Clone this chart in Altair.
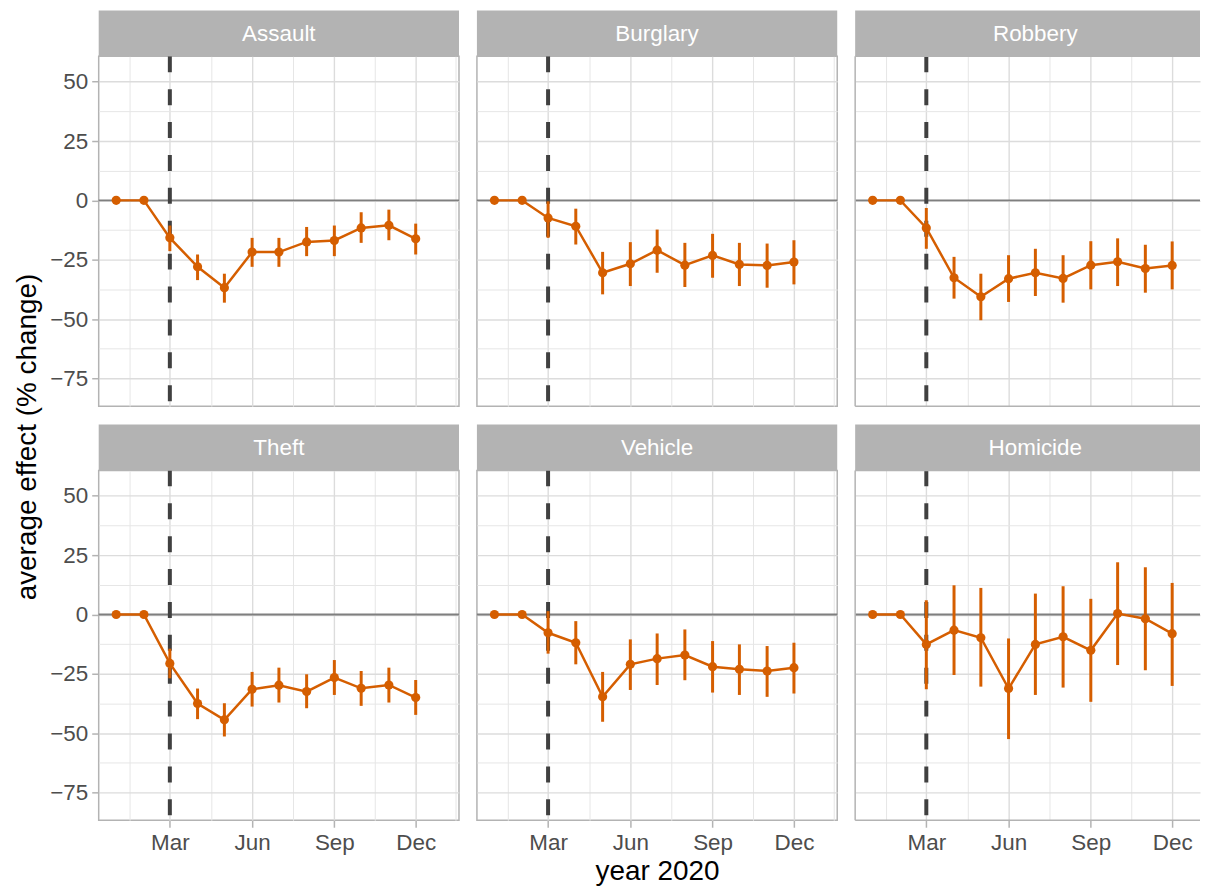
import altair as alt
import pandas as pd

# ---------------- data ----------------
crimes = ["Assault", "Burglary", "Robbery", "Theft", "Vehicle", "Homicide"]
months = ["2020-01-01", "2020-02-01", "2020-03-01", "2020-04-01", "2020-05-01", "2020-06-01",
          "2020-07-01", "2020-08-01", "2020-09-01", "2020-10-01", "2020-11-01", "2020-12-01"]
event_date = "2020-03-01"

assault_est = [0, 0, -15.8, -28.0, -36.8, -21.8, -21.8, -17.5, -16.9, -11.6, -10.5, -16.2]
assault_lo = [0, 0, -21.4, -33.6, -43.1, -28.0, -28.0, -23.5, -23.5, -17.9, -16.8, -22.8]
assault_hi = [0, 0, -10.6, -22.8, -30.9, -15.8, -15.8, -11.2, -10.6, -5.0, -3.9, -9.8]

burglary_est = [0, 0, -7.4, -10.9, -30.5, -26.7, -21.0, -27.3, -23.2, -27.0, -27.4, -26.0]
burglary_lo = [0, 0, -15.8, -18.6, -39.6, -36.1, -30.5, -36.5, -32.6, -36.1, -36.8, -35.4]
burglary_hi = [0, 0, -0.4, -3.5, -21.7, -17.6, -12.3, -17.9, -14.1, -17.9, -18.2, -16.8]

robbery_est = [0, 0, -11.6, -32.6, -40.6, -33.0, -30.5, -32.9, -27.3, -25.9, -28.7, -27.4]
robbery_lo = [0, 0, -20.4, -41.4, -50.5, -42.8, -40.3, -43.1, -37.5, -36.1, -38.9, -37.5]
robbery_hi = [0, 0, -3.2, -23.8, -30.9, -23.1, -20.4, -23.1, -17.2, -16.0, -18.7, -17.3]

theft_est = [0, 0, -20.6, -37.5, -44.4, -31.5, -29.8, -32.5, -26.6, -31.1, -29.7, -35.0]
theft_lo = [0, 0, -26.9, -44.1, -51.4, -38.8, -37.1, -39.5, -33.9, -38.5, -37.1, -42.3]
theft_hi = [0, 0, -14.4, -31.2, -37.4, -24.2, -22.4, -25.2, -19.2, -23.8, -22.4, -27.6]

vehicle_est = [0, 0, -7.7, -11.9, -34.7, -21.0, -18.6, -17.1, -22.0, -23.1, -23.8, -22.4]
vehicle_lo = [0, 0, -16.5, -21.0, -45.2, -31.8, -29.7, -27.7, -32.9, -33.9, -34.7, -33.3]
vehicle_hi = [0, 0, 1.4, -2.8, -24.2, -10.5, -8.0, -6.3, -11.2, -12.6, -13.3, -11.9]

homicide_est = [0, 0, -12.6, -6.6, -9.8, -31.2, -12.6, -9.4, -15.1, 0.4, -1.8, -8.1]
homicide_lo = [0, 0, -31.5, -25.5, -30.4, -52.5, -33.9, -30.8, -36.8, -21.3, -23.5, -30.1]
homicide_hi = [0, 0, 6.0, 12.3, 11.2, -10.1, 8.8, 11.9, 6.6, 22.0, 19.9, 13.3]

series = {
    "Assault": (assault_est, assault_lo, assault_hi),
    "Burglary": (burglary_est, burglary_lo, burglary_hi),
    "Robbery": (robbery_est, robbery_lo, robbery_hi),
    "Theft": (theft_est, theft_lo, theft_hi),
    "Vehicle": (vehicle_est, vehicle_lo, vehicle_hi),
    "Homicide": (homicide_est, homicide_lo, homicide_hi),
}

y_major = [-75, -50, -25, 0, 25, 50]
y_minor = [-62.5, -37.5, -12.5, 12.5, 37.5]
x_major = ["2020-03-01", "2020-06-01", "2020-09-01", "2020-12-01"]
x_minor = ["2020-01-15 12:00", "2020-04-16 00:00", "2020-07-17 00:00", "2020-10-16 12:00",
           "2021-01-15 00:00"]
x_limits = ["2019-12-12 10:00", "2021-01-18 10:00"]

rows = []
for c in crimes:
    est, lo, hi = series[c]
    for m, e, l, h in zip(months, est, lo, hi):
        rows.append({"crime": c, "date": m, "est": e, "lo": l, "hi": h})
df = pd.DataFrame(rows)

# ---------------- styling ----------------
ORANGE = "#D55E00"
BORDER = "#B3B3B3"
FONT = "Liberation Sans"
W, H = 361.5, 351
W_LAST = 346            # right column is cut by the picture edge, as in the reference
STRIP = 46


def ms(s):
    return int(pd.Timestamp(s, tz="UTC").value // 10**6)


t0, t1 = ms(x_limits[0]), ms(x_limits[1])
x_major_test = "utcdate(datum.value) == 1"
y_major_test = "datum.value % 25 == 0"
y_values = sorted(y_major + y_minor)
yscale = alt.Scale(domain=[-86.7, 60.7], nice=False, zero=False)


def x_axis(show, title, tmax):
    vals = [v for v in [ms(s) for s in x_major + x_minor] if v <= tmax]
    return alt.Axis(
        values=vals,
        grid=True,
        domain=False,
        labels=show,
        ticks=show,
        labelOverlap=False,
        labelFlush=False,
        labelExpr="utcdate(datum.value) == 1 ? utcFormat(datum.value, '%b') : ''",
        tickOpacity={"condition": {"test": x_major_test, "value": 1}, "value": 0},
        gridWidth={"condition": {"test": x_major_test, "value": 1.4}, "value": 1.0},
        gridColor={"condition": {"test": x_major_test, "value": "#DCDCDC"}, "value": "#E6E6E6"},
        title=title,
    )


def y_axis(show):
    return alt.Axis(
        values=y_values,
        grid=True,
        domain=False,
        labels=show,
        ticks=show,
        labelOverlap=False,
        labelExpr="datum.value % 25 == 0 ? datum.label : ''",
        tickOpacity={"condition": {"test": y_major_test, "value": 1}, "value": 0},
        gridWidth={"condition": {"test": y_major_test, "value": 1.4}, "value": 1.0},
        gridColor={"condition": {"test": y_major_test, "value": "#DCDCDC"}, "value": "#E6E6E6"},
        title=None,
    )


def panel(i, crime):
    row, col = divmod(i, 3)
    last = col == 2
    w = W_LAST if last else W
    tmax = t0 + (t1 - t0) * w / W
    xscale = alt.Scale(type="utc", domain=[t0, tmax])
    xa = x_axis(row == 1, "year 2020" if (row == 1 and col == 1) else None, tmax)
    ya = y_axis(col == 0)
    X = lambda f: alt.X(f, scale=xscale, axis=xa)
    Y = lambda f: alt.Y(f, scale=yscale, axis=ya)

    ref = pd.DataFrame({"zero": [0], "event": [event_date], "crime": [crime]})
    base = alt.Chart(df).transform_filter(alt.datum.crime == crime)

    zero_line = alt.Chart(ref).mark_rule(color="#7F7F7F", strokeWidth=2).encode(y=Y("zero:Q"))
    vline = alt.Chart(ref).mark_rule(color="#404040", strokeWidth=4, strokeDash=[16, 17]).encode(
        x=X("event:T"))
    bars = base.mark_rule(color=ORANGE, strokeWidth=3).encode(x=X("date:T"), y=Y("lo:Q"), y2="hi:Q")
    line = base.mark_line(color=ORANGE, strokeWidth=2.5).encode(x=X("date:T"), y=Y("est:Q"))
    pts = base.mark_circle(color=ORANGE, size=85, opacity=1).encode(x=X("date:T"), y=Y("est:Q"))
    strip = alt.Chart(ref).mark_rect(color=BORDER).encode(
        x=alt.value(0), x2=alt.value(w), y=alt.value(-STRIP), y2=alt.value(0))
    label = alt.Chart(ref).mark_text(color="white", font=FONT, fontSize=22.5, baseline="middle",
                                     align="center").encode(
        text="crime:N", x=alt.value(W / 2), y=alt.value(-STRIP / 2 + 1))
    layers = [zero_line, vline, bars, line, pts, strip, label]
    if last:
        # the reference crops this column at the picture edge: border on left, top and bottom only
        edge = alt.Chart(ref).mark_rule(color=BORDER, strokeWidth=1.5)
        layers += [
            edge.encode(x=alt.value(0), y=alt.value(0), y2=alt.value(H)),
            edge.encode(x=alt.value(0), x2=alt.value(w), y=alt.value(0)),
            edge.encode(x=alt.value(0), x2=alt.value(w), y=alt.value(H)),
        ]
        return alt.layer(*layers).properties(
            width=w, height=H, view=alt.ViewBackground(stroke="transparent"))
    return alt.layer(*layers).properties(width=w, height=H)


panels = [panel(i, c) for i, c in enumerate(crimes)]

chart = alt.concat(*panels, columns=3, spacing={"row": 14.5, "column": 13.5}).properties(
    title=alt.Title("average effect (% change)", orient="left", anchor="middle", fontSize=28,
                    font=FONT, color="black", fontWeight="normal", offset=7, dx=11),
    padding={"left": 6, "top": 0, "right": 0, "bottom": 0},
).configure_view(
    stroke=BORDER, strokeWidth=1.5
).configure_axis(
    labelFont=FONT, labelFontSize=22.5, labelColor="#4D4D4D",
    tickColor=BORDER, tickSize=7, tickWidth=1.5, labelPadding=4,
    titleFont=FONT, titleFontSize=28, titleColor="black", titleFontWeight="normal",
    titlePadding=4,
)

chart.save("out.html", embed_options={"renderer": "svg", "actions": False})
